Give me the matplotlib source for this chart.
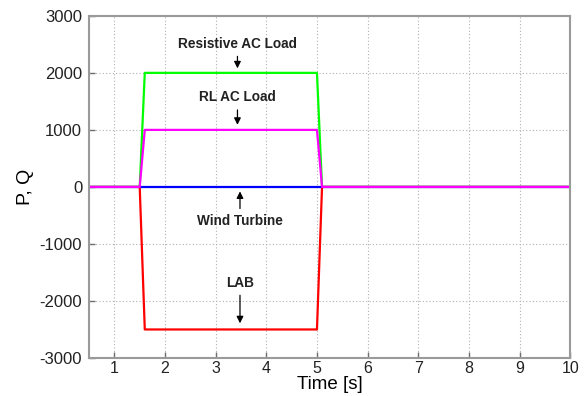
import matplotlib
matplotlib.use("Agg")
import matplotlib.pyplot as plt

plt.rcParams['font.family'] = ['Liberation Sans', 'DejaVu Sans']
plt.rcParams['axes.unicode_minus'] = False

# Time breakpoints [s] and the power of each unit at those instants
time_s = [0.5, 1.5, 1.6, 5.0, 5.1, 10.0]
lab = [0, 0, -2500, -2500, 0, 0]
resistive_load = [0, 0, 2000, 2000, 0, 0]
wind_turbine = [0, 0, 0, 0, 0, 0]
rl_load = [0, 0, 1000, 1000, 0, 0]

x_ticks = [1, 2, 3, 4, 5, 6, 7, 8, 9, 10]
y_ticks = [-3000, -2000, -1000, 0, 1000, 2000, 3000]

fig = plt.figure(figsize=(5.86, 3.96), dpi=100)
ax = fig.add_axes([0.152, 0.096, 0.821, 0.864])

ax.plot(time_s, lab, color='#ff0000', lw=1.6)
ax.plot(time_s, resistive_load, color='#00ff00', lw=1.6)
ax.plot(time_s, wind_turbine, color='#0000ff', lw=1.6)
ax.plot(time_s, rl_load, color='#ff00ff', lw=1.6)

ax.set_xlim(0.5, 10)
ax.set_ylim(-3000, 3000)
ax.set_xticks(x_ticks)
ax.set_yticks(y_ticks)
ax.grid(True, color='#b0b0b0', linestyle=(0, (1, 2)), lw=0.8)
ax.tick_params(direction='in', length=4, width=1, color='#707070',
               labelsize=12, labelcolor='#222222')
ax.tick_params(axis='x', pad=2, labelsize=11.5)
ax.tick_params(axis='y', pad=5)
for sp in ax.spines.values():
    sp.set_color('#9a9a9a')
    sp.set_linewidth(1.5)

ax.set_xlabel('Time [s]', fontsize=13.5, labelpad=0)
ax.set_ylabel('P, Q', fontsize=14, labelpad=4)

arrow = dict(arrowstyle='-|>', color='black', lw=0.9, mutation_scale=10)
ann = dict(ha='center', va='center', fontsize=9.8, fontweight='bold',
           color='#222222')
ax.annotate('Resistive AC Load', xy=(3.43, 2030), xytext=(3.43, 2510),
            arrowprops=arrow, **ann)
ax.annotate('RL AC Load', xy=(3.43, 1040), xytext=(3.43, 1570),
            arrowprops=arrow, **ann)
ax.annotate('Wind Turbine', xy=(3.48, -30), xytext=(3.48, -600),
            arrowprops=arrow, **ann)
ax.annotate('LAB', xy=(3.48, -2440), xytext=(3.48, -1680),
            arrowprops=arrow, **ann)

fig.savefig('out.png', dpi=100)
